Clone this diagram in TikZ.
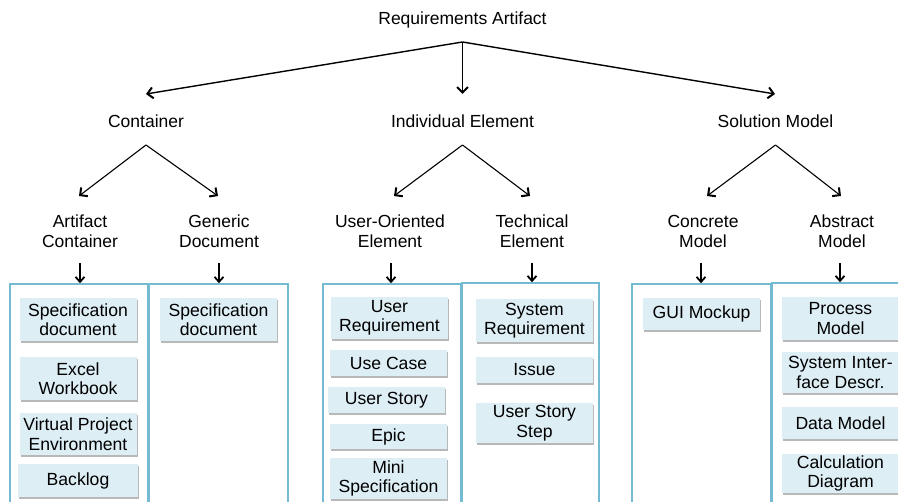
\documentclass[tikz,border=0pt]{standalone}
\usepackage{fontspec}
\setmainfont{Liberation Sans}
\usetikzlibrary{arrows.meta,shadows}
\definecolor{boxfill}{HTML}{DDEEF5}
\definecolor{panelc}{HTML}{74BAD2}
\begin{document}
\begin{tikzpicture}[x=1pt,y=-1pt,
  lbl/.style={font=\fontsize{17.5}{20}\selectfont, align=center, inner sep=0pt},
  item/.style={font=\fontsize{17.6}{19.5}\selectfont, align=center, fill=boxfill, minimum width=117pt, inner sep=0pt,
    drop shadow={shadow xshift=1pt, shadow yshift=-2pt, fill=black, opacity=0.28}},
  panel/.style={draw=panelc, line width=1.6pt},
  bigarr/.style={line width=1.4pt, -{Straight Barb[length=5.5pt,width=11pt,line width=2pt]}},
  midarr/.style={line width=1.1pt, -{Straight Barb[length=5.5pt,width=11pt,line width=2pt]}},
  smallarr/.style={line width=1.1pt, -{Straight Barb[length=5pt,width=9pt,line width=1.8pt]}}]
\useasboundingbox (0,0) rectangle (898,502);
\clip (0,0) rectangle (898,502);

% level 1
\node[lbl] (ra) at (462.5,20) {Requirements Artifact};
\coordinate (raS) at (462.5,42);
% level 2
\node[lbl] (cont) at (146,121) {Container};
\node[lbl] (indi) at (462.5,121) {Individual Element};
\node[lbl] (solm) at (775.5,121) {Solution Model};
\coordinate (contN) at (146,94);
\coordinate (indiN) at (462.5,94);
\coordinate (solmN) at (775,94);
\coordinate (contS) at (146,145);
\coordinate (indiS) at (462.5,145);
\coordinate (solmS) at (775.5,145);
\draw[bigarr] (raS) -- (contN);
\draw[bigarr] (raS) -- (indiN);
\draw[bigarr] (raS) -- (solmN);

% level 3
\node[lbl] (ac) at (80,231) {Artifact\\Container};
\node[lbl] (gd) at (219,231) {Generic\\Document};
\node[lbl] (uo) at (390,231) {User-Oriented\\Element};
\node[lbl] (te) at (532,231) {Technical\\Element};
\node[lbl] (cm) at (703,231) {Concrete\\Model};
\node[lbl] (am) at (842,231) {Abstract\\Model};
\coordinate (acN) at (79,196);
\coordinate (gdN) at (218,196);
\coordinate (uoN) at (394,196);
\coordinate (teN) at (530,196);
\coordinate (cmN) at (707,196);
\coordinate (amN) at (841,196);
\draw[midarr] (contS) -- (acN);
\draw[midarr] (contS) -- (gdN);
\draw[midarr] (indiS) -- (uoN);
\draw[midarr] (indiS) -- (teN);
\draw[midarr] (solmS) -- (cmN);
\draw[midarr] (solmS) -- (amN);

% panels
\node[panel, minimum width=138pt, minimum height=240pt, inner sep=0pt] (p1) at (79,404) {};
\node[panel, minimum width=139pt, minimum height=240pt, inner sep=0pt] (p2) at (218.5,404) {};
\node[panel, minimum width=138pt, minimum height=240pt, inner sep=0pt] (p3) at (392,404) {};
\node[panel, minimum width=137pt, minimum height=242pt, inner sep=0pt] (p4) at (530.5,404) {};
\node[panel, minimum width=139pt, minimum height=240pt, inner sep=0pt] (p5) at (701.5,404) {};
\node[panel, minimum width=139pt, minimum height=242pt, inner sep=0pt] (p6) at (841.5,404) {};

\coordinate (acS) at (80,263);
\coordinate (gdS) at (219,263);
\coordinate (uoS) at (391,263);
\coordinate (teS) at (532,263);
\coordinate (cmS) at (701,263);
\coordinate (amS) at (840,263);
\draw[smallarr] (acS) -- (acS |- p1.north);
\draw[smallarr] (gdS) -- (gdS |- p2.north);
\draw[smallarr] (uoS) -- (uoS |- p3.north);
\draw[smallarr] (teS) -- (teS |- p4.north);
\draw[smallarr] (cmS) -- (cmS |- p5.north);
\draw[smallarr] (amS) -- (amS |- p6.north);

% panel 1
\node[item, minimum height=43pt] (b11) at (78,319.5) {Specification\\document};
\node[item, minimum height=43pt] (b12) at (78,378.5) {Excel\\Workbook};
\node[item, minimum height=42pt] (b13) at (78,434) {Virtual Project\\Environment};
\node[item, minimum height=33pt, minimum width=120pt] (b14) at (78,480.5) {Backlog};
% panel 2
\node[item, minimum height=43pt] (b21) at (218.5,319.5) {Specification\\document};
% panel 3
\node[item, minimum height=42pt] (b31) at (389.5,318) {User\\Requirement};
\node[item, minimum height=26pt] (b32) at (388.5,363) {Use Case};
\node[item, minimum height=26pt] (b33) at (386.5,400) {User Story};
\node[item, minimum height=25pt] (b34) at (388.5,436.5) {Epic};
\node[item, minimum height=41pt] (b35) at (388.5,478.5) {Mini\\Specification};
% panel 4
\node[item, minimum height=43pt] (b41) at (534.5,320.5) {System\\Requirement};
\node[item, minimum height=26pt] (b42) at (534.5,370) {Issue};
\node[item, minimum height=40pt] (b43) at (534.5,423) {User Story\\Step};
% panel 5
\node[item, minimum height=32pt] (b51) at (701.5,314) {GUI Mockup};
% panel 6
\node[item, minimum height=43pt] (b61) at (840.5,318.5) {Process\\Model};
\node[item, minimum height=41pt] (b62) at (840.5,372.5) {System Inter-\\face Descr.};
\node[item, minimum height=32pt] (b63) at (840.5,423) {Data Model};
\node[item, minimum height=39pt] (b64) at (840.5,473.5) {Calculation\\Diagram};
\end{tikzpicture}
\end{document}
